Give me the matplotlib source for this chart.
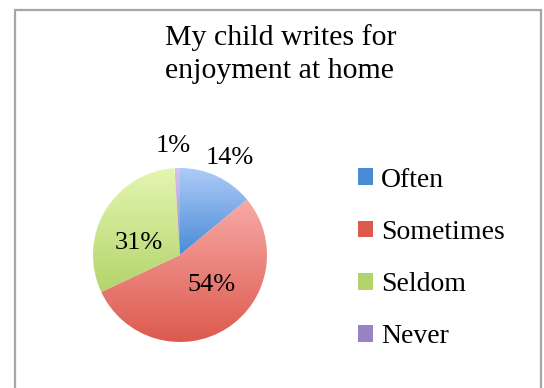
import matplotlib.pyplot as plt
import numpy as np
from matplotlib.patches import Patch, Rectangle
from matplotlib.colors import LinearSegmentedColormap

labels = ['Often', 'Sometimes', 'Seldom', 'Never']
shares = [14, 54, 31, 1]
pct_text = ['14%', '54%', '31%', '1%']
# light (top) and dark (bottom) shade for each slice
tops = ['#aecbf7', '#f7aaa6', '#e4f6b0', '#d4c6ee']
bottoms = ['#4a8bd6', '#dd5a4e', '#b3d46c', '#9a82c6']
label_r = [1.25, 0.5, 0.5, 1.25]
label_nudge = [-2, 14, 14, 2]  # degrees

plt.rcParams['font.family'] = 'Liberation Serif'
fig = plt.figure(figsize=(5.44, 3.88), dpi=100)

# chart frame
fig.patches.append(Rectangle((14.5 / 544, -0.1), 526 / 544, 1.1 - 10.5 / 388,
                             transform=fig.transFigure, fill=False,
                             edgecolor='#a6a6a6', linewidth=1.6))

fig.text(165 / 544, 1 - 78 / 388, 'My child writes for\nenjoyment at home', ha='left',
         va='baseline', fontsize=21.5, linespacing=1.34)

ax = fig.add_axes([70 / 544, 23 / 388, 220 / 544, 220 / 388])
wedges, _ = ax.pie(shares, startangle=90, counterclock=False,
                   colors=bottoms, wedgeprops=dict(linewidth=0))
lim = 110 / 87
ax.set_xlim(-lim, lim)
ax.set_ylim(-lim, lim)
ax.set_aspect('equal')
ax.axis('off')

grad = np.linspace(1, 0, 256).reshape(-1, 1)
for w, t, b in zip(wedges, tops, bottoms):
    cmap = LinearSegmentedColormap.from_list('g', [b, t])
    ext = w.get_path().get_extents(w.get_patch_transform())
    im = ax.imshow(grad, cmap=cmap, vmin=0, vmax=1, aspect='auto',
                   extent=(ext.x0, ext.x1, ext.y0, ext.y1), zorder=w.get_zorder())
    im.set_clip_path(w)
    w.set_alpha(0)

for w, txt, r, d in zip(wedges, pct_text, label_r, label_nudge):
    mid = np.deg2rad((w.theta1 + w.theta2) / 2 + d)
    ax.text(r * np.cos(mid), r * np.sin(mid), txt, ha='center', va='center',
            fontsize=19, zorder=5)

ax.set_xlim(-lim, lim)
ax.set_ylim(-lim, lim)

handles = [Patch(facecolor=c, edgecolor='none') for c in bottoms]
fig.legend(handles, labels, loc='upper left', bbox_to_anchor=(352 / 544, 1 - 162 / 388),
           frameon=False, fontsize=20, handlelength=0.55, handleheight=0.55,
           handletextpad=0.3, labelspacing=0.98, borderaxespad=0, borderpad=0.2)

fig.savefig('out.png')
